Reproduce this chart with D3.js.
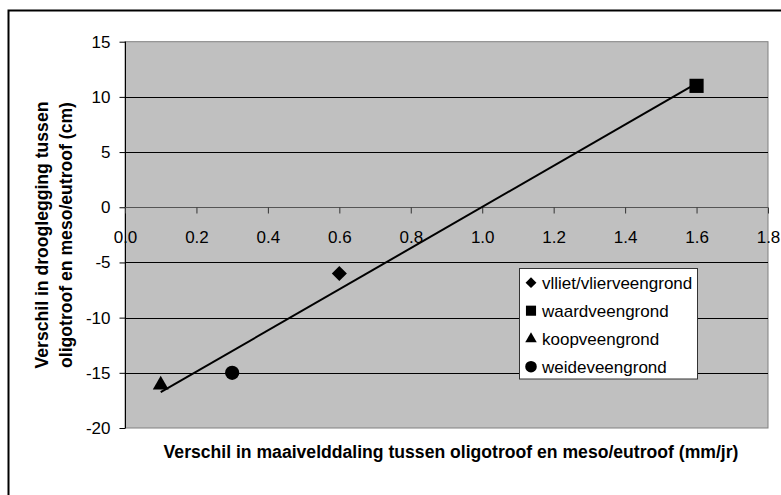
<!DOCTYPE html>
<html><head><meta charset="utf-8">
<script src="https://cdn.jsdelivr.net/npm/d3@7"></script>
<style>html,body{margin:0;padding:0;background:#fff;overflow:hidden}</style>
</head><body>
<svg id="c" width="781" height="495"></svg>
<script>
const categories = ["vlliet/vlierveengrond", "waardveengrond", "koopveengrond", "weideveengrond"];
const xValues = [0.6, 1.6, 0.1, 0.3];
const yValues = [-6, 11, -16, -15];
const symbols = ["diamond", "square", "triangle", "circle"];
const xTicks = [0, 0.2, 0.4, 0.6, 0.8, 1.0, 1.2, 1.4, 1.6, 1.8];
const yTicks = [-20, -15, -10, -5, 0, 5, 10, 15];
const xTitle = "Verschil in maaivelddaling tussen oligotroof en meso/eutroof (mm/jr)";
const yTitle = ["Verschil in drooglegging tussen", "oligotroof en meso/eutroof (cm)"];

const font = "'Liberation Sans', Arial, sans-serif";
const svg = d3.select("#c");
const L = 125, R = 768, T = 41.7, B = 428;
const x = d3.scaleLinear().domain([0, 1.8]).range([L, R]);
const y = d3.scaleLinear().domain([-20, 15]).range([B, T]);

// outer frame
svg.append("rect").attr("x", 8.5).attr("y", 10.5).attr("width", 820).attr("height", 520)
  .attr("fill", "#fff").attr("stroke", "#000").attr("stroke-width", 2);

// plot area
svg.append("rect").attr("x", L).attr("y", T).attr("width", R - L).attr("height", B - T)
  .attr("fill", "#c0c0c0").attr("stroke", "#808080").attr("stroke-width", 1);

// gridlines
svg.append("g").selectAll("line").data(yTicks.filter(d => d !== 0 && d !== -20 && d !== 15)).join("line")
  .attr("x1", L).attr("x2", R).attr("y1", d => Math.round(y(d)) + 0.5).attr("y2", d => Math.round(y(d)) + 0.5)
  .attr("stroke", "#000").attr("stroke-width", 1);

// y axis
const yAxis = svg.append("g").attr("transform", `translate(${L + 0.5},0)`)
  .call(d3.axisLeft(y).tickValues(yTicks).tickSize(6).tickPadding(9).tickFormat(d => String(d)));
yAxis.select(".domain").attr("stroke", "#000").attr("d", `M0,${T}V${B}`);
yAxis.selectAll(".tick line").attr("stroke", "#000");
yAxis.selectAll("text").attr("font-family", font).attr("font-size", 17).attr("fill", "#000");

// x axis at y=0
const xAxis = svg.append("g").attr("transform", `translate(0,${Math.round(y(0)) + 0.5})`)
  .call(d3.axisBottom(x).tickValues(xTicks).tickSize(6).tickPadding(17).tickFormat(d => d.toFixed(1)));
xAxis.select(".domain").attr("stroke", "#555").attr("d", `M${L},0H${R}`);
xAxis.selectAll(".tick line").attr("stroke", "#333");
xAxis.selectAll("text").attr("font-family", font).attr("font-size", 17).attr("fill", "#000");

// trendline (least squares fit of the points)
const mx = d3.mean(xValues), my = d3.mean(yValues);
const slope = d3.sum(xValues, (v, i) => (v - mx) * (yValues[i] - my)) / d3.sum(xValues, v => (v - mx) ** 2);
const icpt = my - slope * mx;
const [x0, x1] = d3.extent(xValues);
svg.append("line").attr("x1", x(x0)).attr("y1", y(icpt + slope * x0))
  .attr("x2", x(x1)).attr("y2", y(icpt + slope * x1))
  .attr("stroke", "#000").attr("stroke-width", 2);

// markers
const symMap = { diamond: d3.symbolDiamond2, square: d3.symbolSquare2, triangle: d3.symbolTriangle2, circle: d3.symbolCircle };
const bigSize = { diamond: 145, square: 256, triangle: 180, circle: 160 };
const smallSize = { diamond: 75, square: 130, triangle: 95, circle: 105 };
function sym(s, size) {
  return d3.symbol().type(symMap[s]).size(size)();
}
svg.append("g").selectAll("path").data(categories).join("path")
  .attr("transform", (d, i) => `translate(${x(xValues[i])},${y(yValues[i]) + (symbols[i] === "triangle" ? 1 : 0)})`)
  .attr("d", (d, i) => sym(symbols[i], bigSize[symbols[i]]))
  .attr("fill", "#000");

// legend
const lg = svg.append("g");
lg.append("rect").attr("x", 519.5).attr("y", 268.5).attr("width", 178).attr("height", 110.5)
  .attr("fill", "#fff").attr("stroke", "#333").attr("stroke-width", 1);
const rowY = [282.7, 310.7, 339, 366.7];
categories.forEach((c, i) => {
  lg.append("path").attr("transform", `translate(531,${rowY[i]})`)
    .attr("d", sym(symbols[i], smallSize[symbols[i]])).attr("fill", "#000");
  lg.append("text").attr("x", 542).attr("y", rowY[i]).attr("dy", "0.35em")
    .attr("font-family", font).attr("font-size", 17).attr("fill", "#000").text(c);
});

// axis titles
svg.append("text").attr("x", 451).attr("y", 458).attr("text-anchor", "middle")
  .attr("font-family", font).attr("font-size", 17.6).attr("font-weight", "bold").attr("fill", "#000").text(xTitle);
yTitle.forEach((t, i) => {
  svg.append("text").attr("transform", `translate(${48 + i * 24},235) rotate(-90)`)
    .attr("text-anchor", "middle").attr("font-family", font).attr("font-size", 17.6)
    .attr("font-weight", "bold").attr("fill", "#000").text(t);
});
</script>
</body></html>
